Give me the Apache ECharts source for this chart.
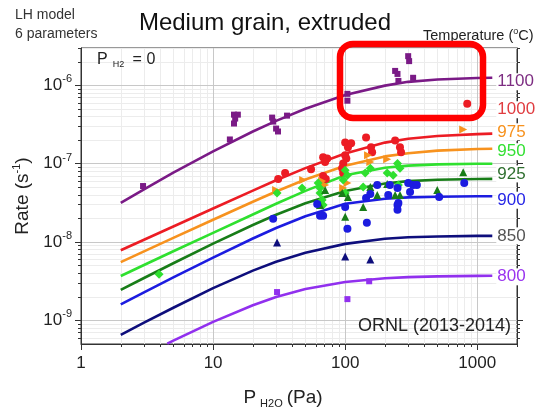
<!DOCTYPE html>
<html>
<head>
<meta charset="utf-8">
<script src="https://cdn.jsdelivr.net/npm/echarts@6/dist/echarts.min.js"></script>
<style>
  html, body { margin: 0; padding: 0; background: #fff; }
  #chart { width: 543px; height: 407px; }
</style>
</head>
<body>
<div id="chart"></div>
<script>
// fitted LH model curves
const pressure = [2, 3, 5, 10, 20, 30, 50, 100, 200, 300, 500, 1000, 1300];
const fit1100 = [3.16e-8, 4.72e-8, 7.71e-8, 1.44e-7, 2.58e-7, 3.52e-7, 5.04e-7, 7.53e-7, 9.93e-7, 1.11e-6, 1.19e-6, 1.24e-6, 1.25e-6];
const fit1000 = [7.87e-9, 1.07e-8, 1.58e-8, 2.68e-8, 4.54e-8, 6.15e-8, 8.79e-8, 1.35e-7, 1.86e-7, 2.08e-7, 2.26e-7, 2.39e-7, 2.42e-7];
const fit975 = [5.55e-9, 7.60e-9, 1.13e-8, 1.93e-8, 3.27e-8, 4.42e-8, 6.28e-8, 9.40e-8, 1.24e-7, 1.36e-7, 1.47e-7, 1.54e-7, 1.55e-7];
const fit950 = [3.69e-9, 5.10e-9, 7.64e-9, 1.31e-8, 2.25e-8, 3.08e-8, 4.50e-8, 7.11e-8, 8.87e-8, 9.46e-8, 9.82e-8, 1.00e-7, 1.00e-7];
const fit925 = [2.45e-9, 3.48e-9, 5.37e-9, 9.55e-9, 1.65e-8, 2.23e-8, 3.13e-8, 4.49e-8, 5.60e-8, 6.00e-8, 6.25e-8, 6.38e-8, 6.40e-8];
const fit900 = [1.60e-9, 2.28e-9, 3.54e-9, 6.34e-9, 1.11e-8, 1.51e-8, 2.14e-8, 3.08e-8, 3.58e-8, 3.72e-8, 3.79e-8, 3.84e-8, 3.85e-8];
const fit850 = [6.55e-10, 9.35e-10, 1.45e-9, 2.58e-9, 4.32e-9, 5.60e-9, 7.30e-9, 9.48e-9, 1.10e-8, 1.15e-8, 1.18e-8, 1.20e-8, 1.20e-8];
const pressure800 = [4.5, 5, 10, 20, 30, 50, 100, 200, 300, 500, 1000, 1300];
const fit800 = [5.05e-10, 5.51e-10, 9.59e-10, 1.56e-9, 1.99e-9, 2.52e-9, 3.10e-9, 3.46e-9, 3.57e-9, 3.65e-9, 3.70e-9, 3.71e-9];

// measured rates [P_H2O (Pa), rate (1/s)]
const pts1100 = [[2.95, 5.19e-8], [13.4, 2.04e-7], [14.4, 4.23e-7], [15.4, 4.23e-7], [14.4, 3.26e-7], [14.7, 3.77e-7],
  [28, 3.88e-7], [28.5, 3.45e-7], [30, 2.81e-7], [31, 2.58e-7], [36.3, 4.11e-7], [104, 7.8e-7], [104, 6.37e-7],
  [239, 1.53e-6], [249, 1.40e-6], [253, 1.14e-6], [300, 2.36e-6], [305, 2.04e-6], [327, 1.25e-6]];
const pts1000 = [[31.1, 6.37e-8], [35.1, 7.59e-8], [55.2, 8.51e-8], [68.1, 1.21e-7], [73.1, 1.17e-7], [70.5, 1.05e-7],
  [68.1, 6.95e-8], [71.3, 6.37e-8], [96.6, 1.01e-7], [100, 1.28e-7], [102, 1.17e-7], [94.9, 8.77e-8], [96.6, 7.59e-8],
  [100, 1.87e-7], [105, 1.62e-7], [111, 1.82e-7], [144, 2.16e-7], [157, 1.62e-7], [160, 1.40e-7], [239, 1.98e-7],
  [260, 1.62e-7], [265, 1.40e-7], [840, 5.83e-7]];
const pts975 = [[48.1, 6.18e-8], [66.9, 6.00e-8], [70.5, 5.35e-8], [96.6, 4.90e-8], [104, 5.66e-8], [149, 1.28e-7],
  [155, 1.05e-7], [208, 1.14e-7], [783, 2.74e-7], [30, 4.62e-8]];
const pts950 = [[3.9, 3.88e-9], [30.5, 4.24e-8], [47.2, 4.90e-8], [62.4, 5.66e-8], [64.5, 4.90e-8], [64.5, 4.24e-8],
  [66.9, 3.45e-8], [68.1, 2.98e-8], [96.6, 6.18e-8], [100, 8.28e-8], [104, 7.15e-8], [100, 4.24e-8], [137, 5.05e-8],
  [142, 7.59e-8], [155, 8.77e-8], [208, 7.59e-8], [231, 7.15e-8], [249, 1.01e-7], [260, 8.77e-8], [253, 5.35e-8]];
const pts925 = [[64.5, 2.98e-8], [70.5, 4.62e-8], [94.9, 4.24e-8], [100, 2.10e-8], [105, 3.77e-8], [137, 2.81e-8],
  [155, 5.05e-8], [175, 3.99e-8], [208, 5.51e-8], [239, 3.99e-8], [260, 3.99e-8], [498, 4.62e-8], [783, 7.8e-8]];
const pts900 = [[28.5, 1.98e-8], [61.4, 3.07e-8], [64.5, 2.16e-8], [68.1, 2.16e-8], [100, 2.81e-8], [104, 1.48e-8],
  [144, 3.66e-8], [146, 1.77e-8], [155, 4.11e-8], [175, 5.35e-8], [212, 3.99e-8], [218, 5.35e-8], [249, 4.90e-8],
  [249, 2.98e-8], [249, 2.58e-8], [253, 3.16e-8], [300, 5.66e-8], [310, 4.36e-8], [327, 5.35e-8], [349, 5.35e-8],
  [515, 3.77e-8], [797, 5.66e-8]];
const pts850 = [[30.5, 9.86e-9], [100, 6.55e-9], [155, 6.0e-9]];
const pts800 = [[30.5, 2.30e-9], [104, 1.87e-9], [152, 3.16e-9]];

const xMajorTicks = [1, 10, 100, 1000];
const xMinorTicks = [2, 3, 4, 5, 6, 7, 8, 9, 20, 30, 40, 50, 60, 70, 80, 90, 200, 300, 400, 500, 600, 700, 800, 900, 2000];
const yMajorTicks = [1e-9, 1e-8, 1e-7, 1e-6];
const yMinorTicks = [6e-10, 7e-10, 8e-10, 9e-10, 2e-9, 3e-9, 4e-9, 5e-9, 6e-9, 7e-9, 8e-9, 9e-9,
  2e-8, 3e-8, 4e-8, 5e-8, 6e-8, 7e-8, 8e-8, 9e-8, 2e-7, 3e-7, 4e-7, 5e-7, 6e-7, 7e-7, 8e-7, 9e-7, 2e-6, 3e-6];

const FONT = 'Liberation Sans, Arial, sans-serif';
const gridBox = { left: 81, top: 48, width: 436, height: 296 };

const curves = [
  { name: '1100', p: pressure, v: fit1100, color: '#7a1a86', label: '#7d2d82', dy: 4 },
  { name: '1000', p: pressure, v: fit1000, color: '#ec1c24', label: '#e03c40', dy: -24 },
  { name: '975', p: pressure, v: fit975, color: '#f7921e', label: '#f7921e', dy: -17 },
  { name: '950', p: pressure, v: fit950, color: '#2fe02f', label: '#33e033', dy: -12 },
  { name: '925', p: pressure, v: fit925, color: '#187d18', label: '#2f6f2f', dy: -5 },
  { name: '900', p: pressure, v: fit900, color: '#1c1ce0', label: '#2626e6', dy: 4 },
  { name: '850', p: pressure, v: fit850, color: '#0e0e7c', label: '#555555', dy: 0 },
  { name: '800', p: pressure800, v: fit800, color: '#9130ee', label: '#9a34ef', dy: 1 }
];

const scatters = [
  { d: pts1100, color: '#7a1a86', symbol: 'rect', size: 6, rot: 0 },
  { d: pts1000, color: '#ec1c24', symbol: 'circle', size: 8, rot: 0 },
  { d: pts975, color: '#f7921e', symbol: 'triangle', size: 8, rot: -90 },
  { d: pts950, color: '#2fe02f', symbol: 'diamond', size: 9, rot: 0 },
  { d: pts925, color: '#187d18', symbol: 'triangle', size: 8, rot: 0 },
  { d: pts900, color: '#1c1ce0', symbol: 'circle', size: 8, rot: 0 },
  { d: pts850, color: '#0e0e7c', symbol: 'triangle', size: 8, rot: 0 },
  { d: pts800, color: '#9130ee', symbol: 'rect', size: 6, rot: 0 }
];

const series = [];
curves.forEach(c => {
  series.push({
    type: 'line',
    name: c.name,
    xAxisIndex: 0, yAxisIndex: 0,
    data: c.p.map((p, i) => [p, c.v[i]]),
    showSymbol: false,
    smooth: false,
    lineStyle: { color: c.color, width: 2.6, join: 'round' },
    endLabel: {
      show: true,
      formatter: c.name,
      color: c.label,
      fontSize: 17,
      fontFamily: FONT,
      distance: 4,
      offset: [0, c.dy],
      backgroundColor: '#fff',
      padding: [0, 1]
    },
    z: 3
  });
});
scatters.forEach(s => {
  series.push({
    type: 'scatter',
    xAxisIndex: 0, yAxisIndex: 0,
    data: s.d,
    symbol: s.symbol,
    symbolSize: s.size,
    symbolRotate: s.rot,
    itemStyle: { color: s.color, opacity: 1 },
    z: 4
  });
});

const expLabel = v => '{b|10}{e|' + Math.round(Math.log10(v)) + '}';

const chart = echarts.init(document.getElementById('chart'), null, { renderer: 'canvas' });
chart.setOption({
  animation: false,
  backgroundColor: '#fff',
  textStyle: { fontFamily: FONT },
  title: {
    text: 'Medium grain, extruded',
    left: 260, top: 6,
    textAlign: 'center',
    textStyle: { fontSize: 24, fontWeight: 'normal', color: '#111', fontFamily: FONT }
  },
  grid: [
    Object.assign({ show: true, borderColor: '#333', borderWidth: 1, containLabel: false, outerBoundsMode: 'none' }, gridBox),
    Object.assign({ show: false, containLabel: false, outerBoundsMode: 'none' }, gridBox)
  ],
  xAxis: [
    {
      type: 'log', gridIndex: 0, min: 1, max: 2000, z: 2,
      axisLine: { lineStyle: { color: '#333', width: 1 } },
      axisTick: { customValues: xMajorTicks, length: 6, lineStyle: { color: '#333' } },
      axisLabel: { customValues: xMajorTicks, formatter: v => String(Math.round(v)), fontSize: 17, color: '#222', margin: 11 },
      splitLine: { show: true, lineStyle: { color: '#c8c8c8', width: 1 } },
      name: '{p|P}{s|H2O}{q|(Pa)}',
      nameLocation: 'middle', nameGap: 42,
      nameTextStyle: {
        rich: {
          p: { fontSize: 19, color: '#222', fontFamily: FONT },
          q: { fontSize: 19, color: '#222', fontFamily: FONT, padding: [0, 32, 0, 0] },
          s: { fontSize: 11, color: '#222', fontFamily: FONT, padding: [12, 4, 0, 4] }
        }
      }
    },
    {
      type: 'log', gridIndex: 1, min: 1, max: 2000,
      axisLine: { show: false },
      axisTick: { customValues: xMinorTicks, length: 3, lineStyle: { color: '#333' } },
      axisLabel: { show: false },
      splitLine: { show: true, lineStyle: { color: '#ececec', width: 1 } }
    }
  ],
  yAxis: [
    {
      type: 'log', gridIndex: 0, min: 5e-10, max: 3e-6, position: 'left', z: 2,
      axisLine: { show: true, lineStyle: { color: '#333', width: 1 } },
      axisTick: { show: true, customValues: yMajorTicks, length: 6, lineStyle: { color: '#333' } },
      axisLabel: {
        customValues: yMajorTicks, formatter: expLabel, margin: 9,
        rich: {
          b: { fontSize: 17, color: '#222', fontFamily: FONT },
          e: { fontSize: 11, color: '#222', fontFamily: FONT, padding: [0, 0, 12, 0] }
        }
      },
      splitLine: { show: true, lineStyle: { color: '#c8c8c8', width: 1 } },
      name: '{p|Rate (s}{e|-1}{p|)}',
      nameLocation: 'middle', nameGap: 36,
      nameTextStyle: {
        rich: {
          p: { fontSize: 19, color: '#222', fontFamily: FONT },
          e: { fontSize: 11, color: '#222', fontFamily: FONT, padding: [0, 0, 12, 0] }
        }
      }
    },
    {
      type: 'log', gridIndex: 1, min: 5e-10, max: 3e-6, position: 'left',
      axisLine: { show: false },
      axisTick: { show: true, customValues: yMinorTicks, length: 3, lineStyle: { color: '#333' } },
      axisLabel: { show: false },
      splitLine: { show: true, lineStyle: { color: '#ececec', width: 1 } }
    },
    {
      type: 'log', gridIndex: 0, min: 5e-10, max: 3e-6, position: 'right',
      axisLine: { show: true, lineStyle: { color: '#333', width: 1 } },
      axisTick: { show: true, customValues: yMajorTicks, length: 6, lineStyle: { color: '#333' } },
      axisLabel: { show: false },
      splitLine: { show: false }
    },
    {
      type: 'log', gridIndex: 1, min: 5e-10, max: 3e-6, position: 'right',
      axisLine: { show: false },
      axisTick: { show: true, customValues: yMinorTicks, length: 3, lineStyle: { color: '#333' } },
      axisLabel: { show: false },
      splitLine: { show: false }
    }
  ],
  graphic: [
    { type: 'text', left: 15, top: 6, style: { text: 'LH model\n6 parameters', font: '14px ' + FONT, fill: '#333', lineHeight: 19 } },
    {
      type: 'text', left: 423, top: 27,
      style: {
        text: '{a|Temperature (}{s|o}{a|C)}',
        rich: {
          a: { fontSize: 14.5, fill: '#222', fontFamily: FONT },
          s: { fontSize: 9, fill: '#222', fontFamily: FONT, padding: [0, 0, 8, 0] }
        }
      }
    },
    {
      type: 'text', left: 97, top: 52, z: 10,
      style: {
        text: '{a|P}{s|H2}{a| = 0}',
        rich: {
          a: { fontSize: 16, fill: '#222', fontFamily: FONT },
          s: { fontSize: 9, fill: '#222', fontFamily: FONT, padding: [10, 4, 0, 5] }
        }
      }
    },
    {
      type: 'text', right: 32, top: 317, z: 10,
      style: { text: 'ORNL (2013-2014)', font: '18px ' + FONT, fill: '#222' }
    },
    {
      type: 'rect', z: 20,
      shape: { x: 340, y: 44, width: 143, height: 74, r: 13 },
      style: { fill: 'none', stroke: '#ff0000', lineWidth: 6.5 }
    }
  ],
  series: series
});
</script>
</body>
</html>
